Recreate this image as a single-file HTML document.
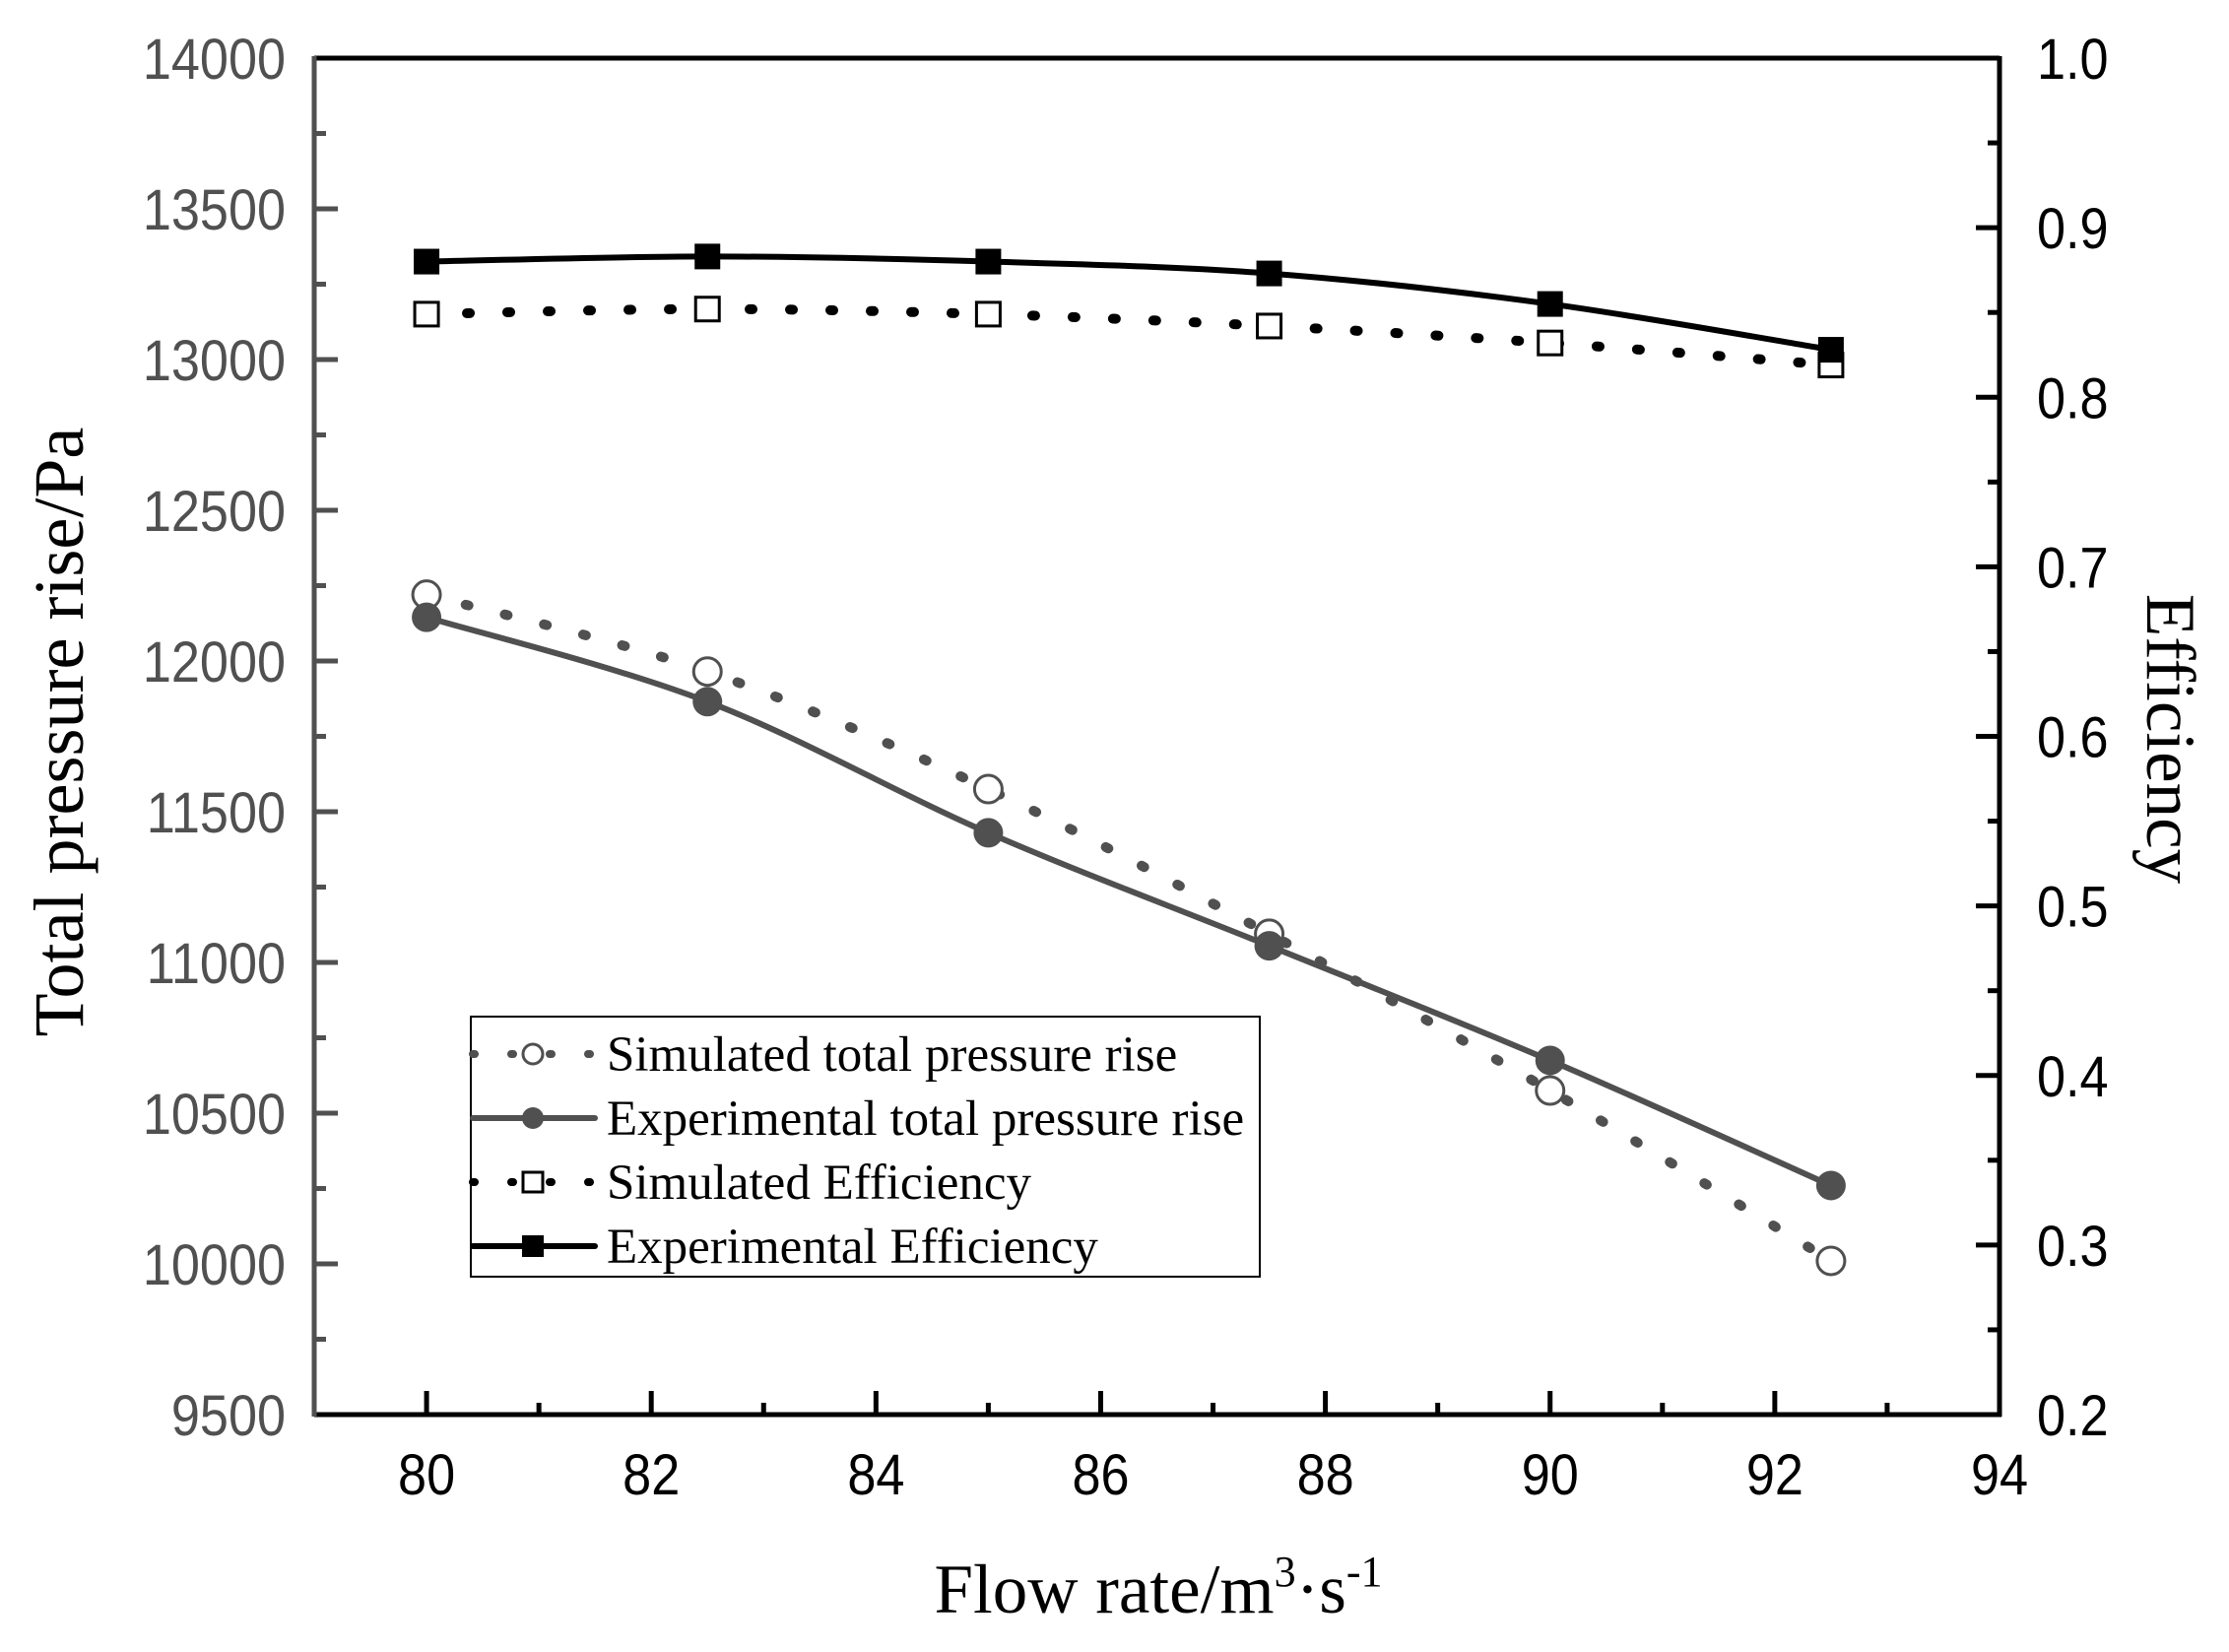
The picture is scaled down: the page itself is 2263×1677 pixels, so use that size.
<!DOCTYPE html>
<html><head><meta charset="utf-8"><style>
html,body{margin:0;padding:0;background:#fff;}
svg{display:block;}
</style></head><body>
<svg id="chart" width="2263" height="1677" viewBox="0 0 2263 1677" xmlns="http://www.w3.org/2000/svg">
<g id="grid"></g>
<g id="series"></g>
<g id="axes"></g>
<g id="legend"></g>
</svg>
<script>
const flowRates = [80, 82.5, 85, 87.5, 90, 92.5];
const simPressure = [12220, 11965, 11575, 11095, 10575, 10010];
const expPressure = [12145, 11865, 11430, 11055, 10675, 10260];
const simEfficiency = [0.849, 0.852, 0.849, 0.842, 0.832, 0.819];
const expEfficiency = [0.880, 0.883, 0.880, 0.873, 0.855, 0.828];
const xTicks = [80, 82, 84, 86, 88, 90, 92, 94];
const yLeftTicks = [9500, 10000, 10500, 11000, 11500, 12000, 12500, 13000, 13500, 14000];
const yRightTicks = [0.2, 0.3, 0.4, 0.5, 0.6, 0.7, 0.8, 0.9, 1.0];

const NS = "http://www.w3.org/2000/svg";
const L = 319, R = 2030, T = 59, B = 1436;
const xMin = 79, xMax = 94, yLMin = 9500, yLMax = 14000, yRMin = 0.2, yRMax = 1.0;
const GRAY = "#505050";
function xs(v){return L + (v - xMin) / (xMax - xMin) * (R - L);}
function yl(v){return B - (v - yLMin) / (yLMax - yLMin) * (B - T);}
function yr(v){return B - (v - yRMin) / (yRMax - yRMin) * (B - T);}
function mk(tag, attrs, parent){const e=document.createElementNS(NS,tag);for(const k in attrs)e.setAttribute(k,attrs[k]);parent.appendChild(e);return e;}
function fmt(v){return v.toFixed(1);}

const axes = document.getElementById("axes");
const series = document.getElementById("series");
const legend = document.getElementById("legend");
const TF = "Liberation Sans, Arial, sans-serif";
const SF = "Liberation Serif, Times New Roman, serif";

for (let v = 79; v <= 94; v++) {
  const major = v % 2 === 0;
  const t = mk("line",{x1:xs(v),x2:xs(v),y1:B,y2:B-(major?24:12),stroke:"#000","stroke-width":5},axes);
  
  
}
xTicks.forEach(v=>{
  const t = mk("text",{x:0,y:0,"text-anchor":"middle","font-family":TF,"font-size":58,fill:"#000",transform:"translate("+xs(v)+",1517) scale(0.9,1)"},axes);
  t.textContent = v;
  
  
});
for (let v = 9500; v <= 14000; v += 250) {
  const major = v % 500 === 0;
  const t = mk("line",{x1:L,x2:L+(major?24:12),y1:yl(v),y2:yl(v),stroke:GRAY,"stroke-width":5},axes);
  
  
}
yLeftTicks.forEach(v=>{
  const t = mk("text",{x:0,y:0,"text-anchor":"end","font-family":TF,"font-size":58,fill:GRAY,transform:"translate(290,"+(yl(v)+21)+") scale(0.9,1)"},axes);
  t.textContent = v;
  
  
});
for (let i = 0; i <= 16; i++) {
  const v = 0.2 + i * 0.05;
  const major = i % 2 === 0;
  const t = mk("line",{x1:R,x2:R-(major?24:12),y1:yr(v),y2:yr(v),stroke:"#000","stroke-width":5},axes);
  
  
}
yRightTicks.forEach(v=>{
  const t = mk("text",{x:0,y:0,"text-anchor":"start","font-family":TF,"font-size":58,fill:"#000",transform:"translate(2068,"+(yr(v)+21)+") scale(0.9,1)"},axes);
  t.textContent = fmt(v);
  
  
});
let s;
s = mk("line",{x1:L,x2:R,y1:T,y2:T,stroke:"#000","stroke-width":5},axes);
 
s = mk("line",{x1:L,x2:R+2,y1:B,y2:B,stroke:"#000","stroke-width":5},axes);
 
s = mk("line",{x1:L,x2:L,y1:T-2,y2:B+2,stroke:GRAY,"stroke-width":5},axes);
 
s = mk("line",{x1:R,x2:R,y1:T-2,y2:B+2,stroke:"#000","stroke-width":5},axes);
 

let tt = mk("text",{x:1176,y:1637,"text-anchor":"middle","font-family":SF,"font-size":71,fill:"#000"},axes);
tt.innerHTML = 'Flow rate/m<tspan dy="-27" font-size="44">3</tspan><tspan dy="27">·s</tspan><tspan dy="-27" font-size="44">-1</tspan>';
 
tt = mk("text",{x:0,y:0,"text-anchor":"middle","font-family":SF,"font-size":72,fill:"#000",transform:"translate(84,743) rotate(-90)"},axes);
tt.textContent = "Total pressure rise/Pa";
 
tt = mk("text",{x:0,y:0,"text-anchor":"middle","font-family":SF,"font-size":71,fill:"#000",transform:"translate(2180,750) rotate(90)"},axes);
tt.textContent = "Efficiency";
 

function smoothPath(pts){
  let d = "M" + pts[0][0] + "," + pts[0][1];
  for (let i = 0; i < pts.length - 1; i++) {
    const p0 = pts[Math.max(0,i-1)], p1 = pts[i], p2 = pts[i+1], p3 = pts[Math.min(pts.length-1,i+2)];
    const c1x = p1[0] + (p2[0]-p0[0])/6, c1y = p1[1] + (p2[1]-p0[1])/6;
    const c2x = p2[0] - (p3[0]-p1[0])/6, c2y = p2[1] - (p3[1]-p1[1])/6;
    d += " C" + c1x + "," + c1y + " " + c2x + "," + c2y + " " + p2[0] + "," + p2[1];
  }
  return d;
}
function drawSeries(vals, yf, color, dashed, marker, name){
  const g = mk("g",{},series);
  
  
  const pts = flowRates.map((x,i)=>[xs(x), yf(vals[i])]);
  const attrs = {d:smoothPath(pts),fill:"none",stroke:color,"stroke-width":dashed?10:6,"stroke-linecap":"round"};
  if (dashed) { attrs["stroke-dasharray"] = "3 38"; }
  const p = mk("path",attrs,g);
  
  
  pts.forEach(pt=>{
    let m;
    if (marker === "circle-open") m = mk("circle",{cx:pt[0],cy:pt[1],r:14,fill:"#fff",stroke:color,"stroke-width":3},g);
    else if (marker === "circle") m = mk("circle",{cx:pt[0],cy:pt[1],r:15,fill:color},g);
    else if (marker === "square-open") m = mk("rect",{x:pt[0]-12,y:pt[1]-12,width:24,height:24,fill:"#fff",stroke:color,"stroke-width":3},g);
    else m = mk("rect",{x:pt[0]-13,y:pt[1]-13,width:26,height:26,fill:color},g);
    
    
  });
}
drawSeries(simEfficiency, yr, "#000", true, "square-open", "simulated-efficiency");
drawSeries(expEfficiency, yr, "#000", false, "square", "experimental-efficiency");
drawSeries(simPressure, yl, GRAY, true, "circle-open", "simulated-pressure");
drawSeries(expPressure, yl, GRAY, false, "circle", "experimental-pressure");

const lb = mk("rect",{x:478,y:1032,width:801,height:264,fill:"#fff",stroke:"#000","stroke-width":2},legend);
 
const items = [
  ["Simulated total pressure rise", GRAY, true, "circle-open"],
  ["Experimental total pressure rise", GRAY, false, "circle"],
  ["Simulated Efficiency", "#000", true, "square-open"],
  ["Experimental Efficiency", "#000", false, "square"]
];
items.forEach((it,i)=>{
  const y = 1070 + i*65;
  const g = mk("g",{},legend);
  
  
  const la = {x1:480,x2:604,y1:y,y2:y,stroke:it[1],"stroke-width":it[2]?8:6,"stroke-linecap":"round"};
  if (it[2]) la["stroke-dasharray"] = "2 37";
  mk("line",la,g);
  const cx = 541;
  if (it[3]==="circle-open") mk("circle",{cx:cx,cy:y,r:10,fill:"#fff",stroke:it[1],"stroke-width":3},g);
  else if (it[3]==="circle") mk("circle",{cx:cx,cy:y,r:11,fill:it[1]},g);
  else if (it[3]==="square-open") mk("rect",{x:cx-10,y:y-10,width:20,height:20,fill:"#fff",stroke:it[1],"stroke-width":3},g);
  else mk("rect",{x:cx-11,y:y-11,width:22,height:22,fill:it[1]},g);
  const t = mk("text",{x:616,y:y+17,"font-family":SF,"font-size":51,fill:"#000"},g);
  t.textContent = it[0];
});
</script>
</body></html>
